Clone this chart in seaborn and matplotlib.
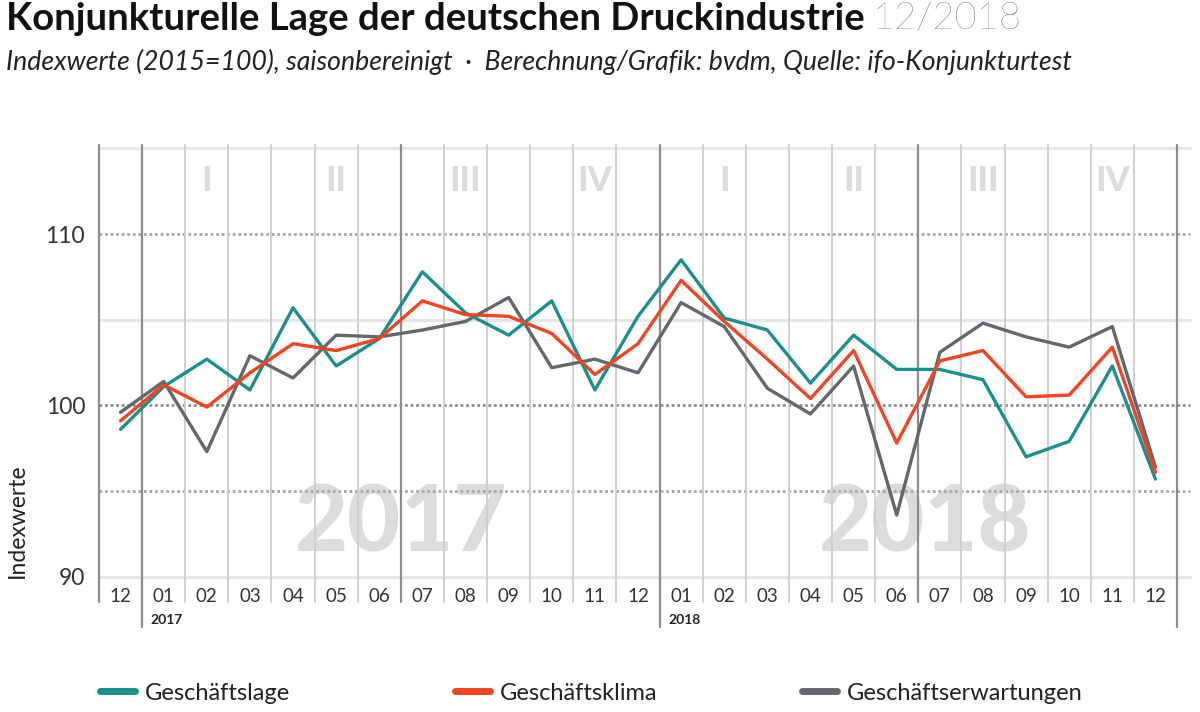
import matplotlib
matplotlib.use("Agg")
import matplotlib.pyplot as plt
import matplotlib.transforms as mtransforms
from matplotlib.lines import Line2D
import seaborn as sns
import pandas as pd

# ---------------- data ----------------
months = ["12", "01", "02", "03", "04", "05", "06", "07", "08", "09", "10", "11", "12",
          "01", "02", "03", "04", "05", "06", "07", "08", "09", "10", "11", "12"]
geschaeftslage = [98.6, 101.1, 102.7, 100.9, 105.7, 102.3, 103.9, 107.8, 105.4, 104.1, 106.1, 100.9, 105.2,
                  108.5, 105.1, 104.4, 101.3, 104.1, 102.1, 102.1, 101.5, 97.0, 97.9, 102.3, 95.7]
geschaeftsklima = [99.1, 101.2, 99.9, 101.9, 103.6, 103.2, 103.9, 106.1, 105.3, 105.2, 104.2, 101.8, 103.6,
                   107.3, 104.9, 102.7, 100.4, 103.2, 97.8, 102.6, 103.2, 100.5, 100.6, 103.4, 96.1]
geschaeftserwartungen = [99.6, 101.4, 97.3, 102.9, 101.6, 104.1, 104.0, 104.4, 104.9, 106.3, 102.2, 102.7, 101.9,
                         106.0, 104.6, 101.0, 99.5, 102.3, 93.6, 103.1, 104.8, 104.0, 103.4, 104.6, 96.4]
series_names = ["Geschäftslage", "Geschäftsklima", "Geschäftserwartungen"]
quarter_labels = ["I", "II", "III", "IV", "I", "II", "III", "IV"]
year_labels = ["2017", "2018"]
yticks = [90, 100, 110]

colors = {"Geschäftslage": "#17908e", "Geschäftsklima": "#f4431e", "Geschäftserwartungen": "#62686b"}

idx = list(range(len(months)))
df = pd.concat([
    pd.DataFrame({"idx": idx, "value": geschaeftslage, "series": series_names[0]}),
    pd.DataFrame({"idx": idx, "value": geschaeftsklima, "series": series_names[1]}),
    pd.DataFrame({"idx": idx, "value": geschaeftserwartungen, "series": series_names[2]}),
])

# ---------------- style ----------------
sns.set_style("white")
plt.rcParams["font.family"] = ["Lato", "DejaVu Sans"]

W, H = 1200, 712
fig = plt.figure(figsize=(W / 100, H / 100), dpi=100)
ax_left, ax_right, ax_top, ax_bottom = 99, 1177, 145, 576.7
ax = fig.add_axes([ax_left / W, 1 - ax_bottom / H, (ax_right - ax_left) / W, (ax_bottom - ax_top) / H])

ax.set_xlim(-0.5, len(months) - 0.5)
ax.set_ylim(90, 115.2)
for s in ax.spines.values():
    s.set_visible(False)

# horizontal grid
xext = 1 + 13 / (ax_right - ax_left)
for v in (115, 105, 90):
    ax.axhline(v, xmin=0, xmax=xext, color="#e6e6e6", lw=2.2, zorder=0, clip_on=False)
for v, c in [(110, "#a8a8a8"), (100, "#8c8c8c"), (95, "#a8a8a8")]:
    ax.axhline(v, xmin=0, xmax=xext, color=c, lw=2.0, ls=(0, (1, 1)), zorder=0.5, clip_on=False)

# vertical grid (month boundaries)
trans = mtransforms.blended_transform_factory(ax.transData, ax.transAxes)
axh_px = ax_bottom - ax_top
short_bottom = -(602 - ax_bottom) / axh_px
long_bottom = -(627 - ax_bottom) / axh_px
for b in range(len(months) + 1):
    xb = b - 0.5
    if b in (1, 13, 25):
        ax.plot([xb, xb], [long_bottom, 1], transform=trans, color="#8e8e8e", lw=1.6, zorder=0.6, clip_on=False)
    elif b in (0, 7, 19):
        ax.plot([xb, xb], [short_bottom, 1], transform=trans, color="#8e8e8e", lw=1.6, zorder=0.6, clip_on=False)
    else:
        ax.plot([xb, xb], [short_bottom, 1], transform=trans, color="#cfcfcf", lw=1.4, zorder=0.6, clip_on=False)

# watermarks
ax.text(6.5, 93.0, year_labels[0], ha="center", va="center", fontsize=66, fontweight="black",
        color="#dcdcdc", zorder=0.3)
ax.text(18.65, 93.0, year_labels[1], ha="center", va="center", fontsize=66, fontweight="black",
        color="#dcdcdc", zorder=0.3)
quarter_pos = [2, 5, 8, 11, 14, 17, 20, 23]
for q, xq in zip(quarter_labels, quarter_pos):
    ax.text(xq, 113.1, q, ha="center", va="center", fontsize=25, fontweight="black",
            color="#dcdcdc", zorder=0.3)

# lines
sns.lineplot(data=df, x="idx", y="value", hue="series",
             hue_order=["Geschäftserwartungen", "Geschäftslage", "Geschäftsklima"],
             palette=colors, linewidth=2.4, ax=ax, legend=True, zorder=3)
if ax.get_legend() is not None:
    ax.get_legend().remove()

# ticks
ax.set_xticks(idx)
ax.set_xticklabels(months, fontsize=13.5, color="#333333")
ax.set_yticks(yticks)
ax.set_yticklabels([str(t) for t in yticks], fontsize=16.5, color="#333333")
ax.tick_params(axis="x", length=0, pad=8)
ax.tick_params(axis="y", length=0, pad=10)
ax.set_xlabel("")
ax.set_ylabel("")

# year labels under axis
ax.text(0.7, -(620 - ax_bottom) / axh_px, year_labels[0], transform=trans, ha="left", va="center",
        fontsize=10, fontweight="bold", color="#222222")
ax.text(12.7, -(620 - ax_bottom) / axh_px, year_labels[1], transform=trans, ha="left", va="center",
        fontsize=10, fontweight="bold", color="#222222")

# y label
fig.text(17 / W, 1 - 521 / H, "Indexwerte", rotation=90, ha="center", va="center",
         fontsize=16.5, color="#222222")

# title & subtitle
t = fig.text(6 / W, 1 - 19 / H, "Konjunkturelle Lage der deutschen Druckindustrie", ha="left", va="center",
             fontsize=27.5, fontweight="bold", color="#111111")
fig.canvas.draw()
bb = t.get_window_extent()
fig.text((bb.x1 + 8) / W, 1 - 19 / H, "12/2018", ha="left", va="center",
         fontsize=27.5, fontweight="light", color="#555555")
fig.text(6 / W, 1 - 62 / H,
         "Indexwerte (2015=100), saisonbereinigt  ·  Berechnung/Grafik: bvdm, Quelle: ifo-Konjunkturtest",
         ha="left", va="center", fontsize=19.2, fontstyle="italic", color="#222222")

# legends
leg_x = [100, 455, 802]
for name, lx in zip(series_names, leg_x):
    h = Line2D([0], [0], color=colors[name], lw=5)
    fig.legend(handles=[h], labels=[name], loc="center left", bbox_to_anchor=(lx / W, 1 - 693 / H),
               frameon=False, borderpad=0, borderaxespad=0, handlelength=1.5, handletextpad=0.42,
               prop={"size": 17}, labelcolor="#222222")

fig.savefig("out.png", dpi=100)
